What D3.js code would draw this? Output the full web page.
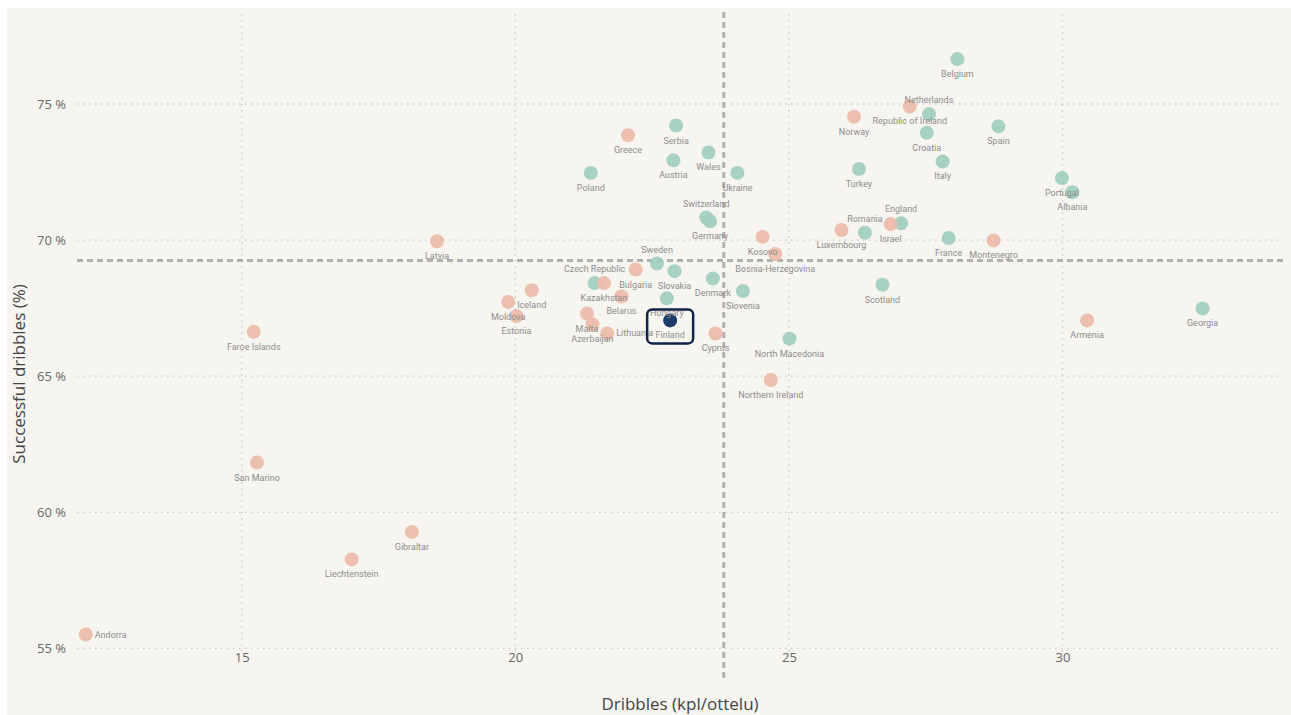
<!DOCTYPE html>
<html>
<head>
<meta charset="utf-8">
<script src="https://cdn.jsdelivr.net/npm/d3@7"></script>
<style>
	body { margin: 0; background: #fff; }
	svg { display: block; }
</style>
</head>
<body>
<div id="scatter"></div>
<script>
// countries, dribbles per match, successful dribbles %, group (q = green, n = salmon, fin = highlighted)
const countries = ['Belgium', 'Netherlands', 'Republic of Ireland', 'Norway', 'Croatia', 'Spain', 'Italy', 'Turkey', 'Portugal', 'Albania',
	'England', 'Israel', 'Romania', 'Luxembourg', 'France', 'Montenegro', 'Greece', 'Serbia', 'Wales', 'Austria',
	'Poland', 'Ukraine', 'Switzerland', 'Germany', 'Kosovo', 'Bosnia-Herzegovina', 'Sweden', 'Slovakia', 'Czech Republic', 'Kazakhstan',
	'Bulgaria', 'Denmark', 'Slovenia', 'Hungary', 'Belarus', 'Finland', 'Malta', 'Azerbaijan', 'Lithuania', 'Cyprus',
	'North Macedonia', 'Iceland', 'Moldova', 'Estonia', 'Latvia', 'Faroe Islands', 'San Marino', 'Gibraltar', 'Liechtenstein', 'Andorra',
	'Northern Ireland', 'Armenia', 'Georgia', 'Scotland']

const dribbles = [28.08, 27.56, 27.21, 26.19, 27.52, 28.83, 27.81, 26.28, 29.99, 30.18,
	27.05, 26.86, 26.39, 25.96, 27.92, 28.74, 22.06, 22.94, 23.53, 22.89,
	21.38, 24.06, 23.49, 23.56, 24.52, 24.75, 22.59, 22.91, 21.45, 21.62,
	22.20, 23.61, 24.16, 22.77, 21.94, 22.83, 21.31, 21.41, 21.68, 23.66,
	25.01, 20.30, 19.87, 20.02, 18.57, 15.22, 15.28, 18.11, 17.01, 12.15,
	24.67, 30.45, 32.56, 26.71]

const success = [76.65, 74.63, 74.91, 74.53, 73.94, 74.18, 72.89, 72.61, 72.28, 71.76,
	70.62, 70.59, 70.27, 70.37, 70.08, 69.99, 73.85, 74.21, 73.22, 72.93,
	72.47, 72.47, 70.83, 70.69, 70.12, 69.49, 69.14, 68.86, 68.42, 68.42,
	68.92, 68.59, 68.13, 67.86, 67.93, 67.05, 67.30, 66.90, 66.57, 66.57,
	66.38, 68.16, 67.73, 67.21, 69.96, 66.63, 61.83, 59.28, 58.27, 55.51,
	64.86, 67.05, 67.49, 68.36]

const group = ['q', 'q', 'n', 'n', 'q', 'q', 'q', 'q', 'q', 'q',
	'q', 'n', 'q', 'n', 'q', 'n', 'n', 'q', 'q', 'q',
	'q', 'q', 'q', 'q', 'n', 'n', 'q', 'q', 'q', 'n',
	'n', 'q', 'q', 'q', 'n', 'fin', 'n', 'n', 'n', 'n',
	'q', 'n', 'n', 'n', 'n', 'n', 'n', 'n', 'n', 'n',
	'n', 'n', 'q', 'q']

const xTicks = [15, 20, 25, 30]
const yTicks = [55, 60, 65, 70, 75]
const avgDribbles = 23.81, avgSuccess = 69.25

const labelAbove = ['Netherlands', 'England', 'Romania', 'Switzerland', 'Sweden', 'Czech Republic']
const labelRight = ['Andorra', 'Lithuania']

const data = countries.map((c, i) => ({ name: c, x: dribbles[i], y: success[i], g: group[i] }))

const width = 1291, height = 715
const colors = { q: '#9fcdbf', n: '#ebbaa9', fin: '#1f3b6c' }

let svg = d3.select('#scatter')
	.append('svg')
	.attr('width', width)
	.attr('height', height)

svg.append('rect')
	.attr('x', 7).attr('y', 8)
	.attr('width', width - 7).attr('height', height - 8)
	.attr('fill', '#f7f5f0')

let xScale = d3.scaleLinear()
	.domain([11.99, 34.03])
	.range([77, 1283])

let yScale = d3.scaleLinear()
	.domain([53.84, 78.38])
	.range([680, 12])

// grid
svg.append('g')
	.selectAll('line')
	.data(yTicks)
	.join('line')
	.attr('x1', 77).attr('x2', 1283)
	.attr('y1', d => yScale(d)).attr('y2', d => yScale(d))
	.attr('stroke', '#cbc9c5')
	.attr('stroke-width', 1.3)
	.attr('stroke-dasharray', '1.5,4.5')

svg.append('g')
	.selectAll('line')
	.data(xTicks)
	.join('line')
	.attr('x1', d => xScale(d)).attr('x2', d => xScale(d))
	.attr('y1', 14).attr('y2', 652)
	.attr('stroke', '#cbc9c5')
	.attr('stroke-width', 1.3)
	.attr('stroke-dasharray', '1.5,4.5')

// axes
let yAxis = d3.axisLeft(yScale)
	.tickValues(yTicks)
	.tickFormat(d => d + ' %')
	.tickSize(0)
	.tickPadding(0)

svg.append('g')
	.attr('transform', 'translate(66,0)')
	.call(yAxis)
	.call(g => g.select('.domain').remove())
	.selectAll('text')
	.attr('fill', '#666')
	.style('font-family', 'Open Sans, sans-serif')
	.style('font-size', '13px')

let xAxis = d3.axisBottom(xScale)
	.tickValues(xTicks)
	.tickSize(0)
	.tickPadding(0)

svg.append('g')
	.attr('transform', 'translate(0,653)')
	.call(xAxis)
	.call(g => g.select('.domain').remove())
	.selectAll('text')
	.attr('fill', '#666')
	.style('font-family', 'Open Sans, sans-serif')
	.style('font-size', '13px')

svg.append('text')
	.attr('x', 680).attr('y', 710)
	.attr('text-anchor', 'middle')
	.attr('fill', '#444')
	.style('font-family', 'Open Sans, sans-serif')
	.style('font-size', '17px')
	.text('Dribbles (kpl/ottelu)')

svg.append('text')
	.attr('transform', 'translate(25,374) rotate(-90)')
	.attr('text-anchor', 'middle')
	.attr('fill', '#444')
	.style('font-family', 'Open Sans, sans-serif')
	.style('font-size', '17px')
	.text('Successful dribbles (%)')

// average lines
svg.append('line')
	.attr('x1', 77).attr('x2', 1283)
	.attr('y1', yScale(avgSuccess)).attr('y2', yScale(avgSuccess))
	.attr('stroke', '#b3b1ad')
	.attr('stroke-width', 3)
	.attr('stroke-dasharray', '6,4')

svg.append('line')
	.attr('x1', xScale(avgDribbles)).attr('x2', xScale(avgDribbles))
	.attr('y1', 12).attr('y2', 680)
	.attr('stroke', '#b3b1ad')
	.attr('stroke-width', 3)
	.attr('stroke-dasharray', '6,4')

// points
svg.append('g')
	.selectAll('circle')
	.data(data)
	.join('circle')
	.attr('cx', d => xScale(d.x))
	.attr('cy', d => yScale(d.y))
	.attr('r', 7)
	.attr('fill', d => colors[d.g])
	.attr('fill-opacity', d => d.g == 'fin' ? 1 : 0.92)

// labels
svg.append('g')
	.selectAll('text')
	.data(data)
	.join('text')
	.attr('x', d => labelRight.includes(d.name) ? xScale(d.x) + 9 : xScale(d.x))
	.attr('y', d => {
		if (labelAbove.includes(d.name)) return yScale(d.y) - 11
		if (labelRight.includes(d.name)) return yScale(d.y) + 3
		return yScale(d.y) + 18
	})
	.attr('text-anchor', d => labelRight.includes(d.name) ? 'start' : 'middle')
	.attr('fill', '#8d8d8d')
	.style('font-family', 'Roboto, sans-serif')
	.style('font-size', '9px')
	.text(d => d.name)

// highlight box round Finland
const fin = data.find(d => d.g == 'fin')
svg.append('rect')
	.attr('x', xScale(fin.x) - 23)
	.attr('y', yScale(fin.y) - 11)
	.attr('width', 46)
	.attr('height', 34)
	.attr('rx', 5)
	.attr('fill', 'none')
	.attr('stroke', '#0f2448')
	.attr('stroke-width', 2.5)
</script>
</body>
</html>
